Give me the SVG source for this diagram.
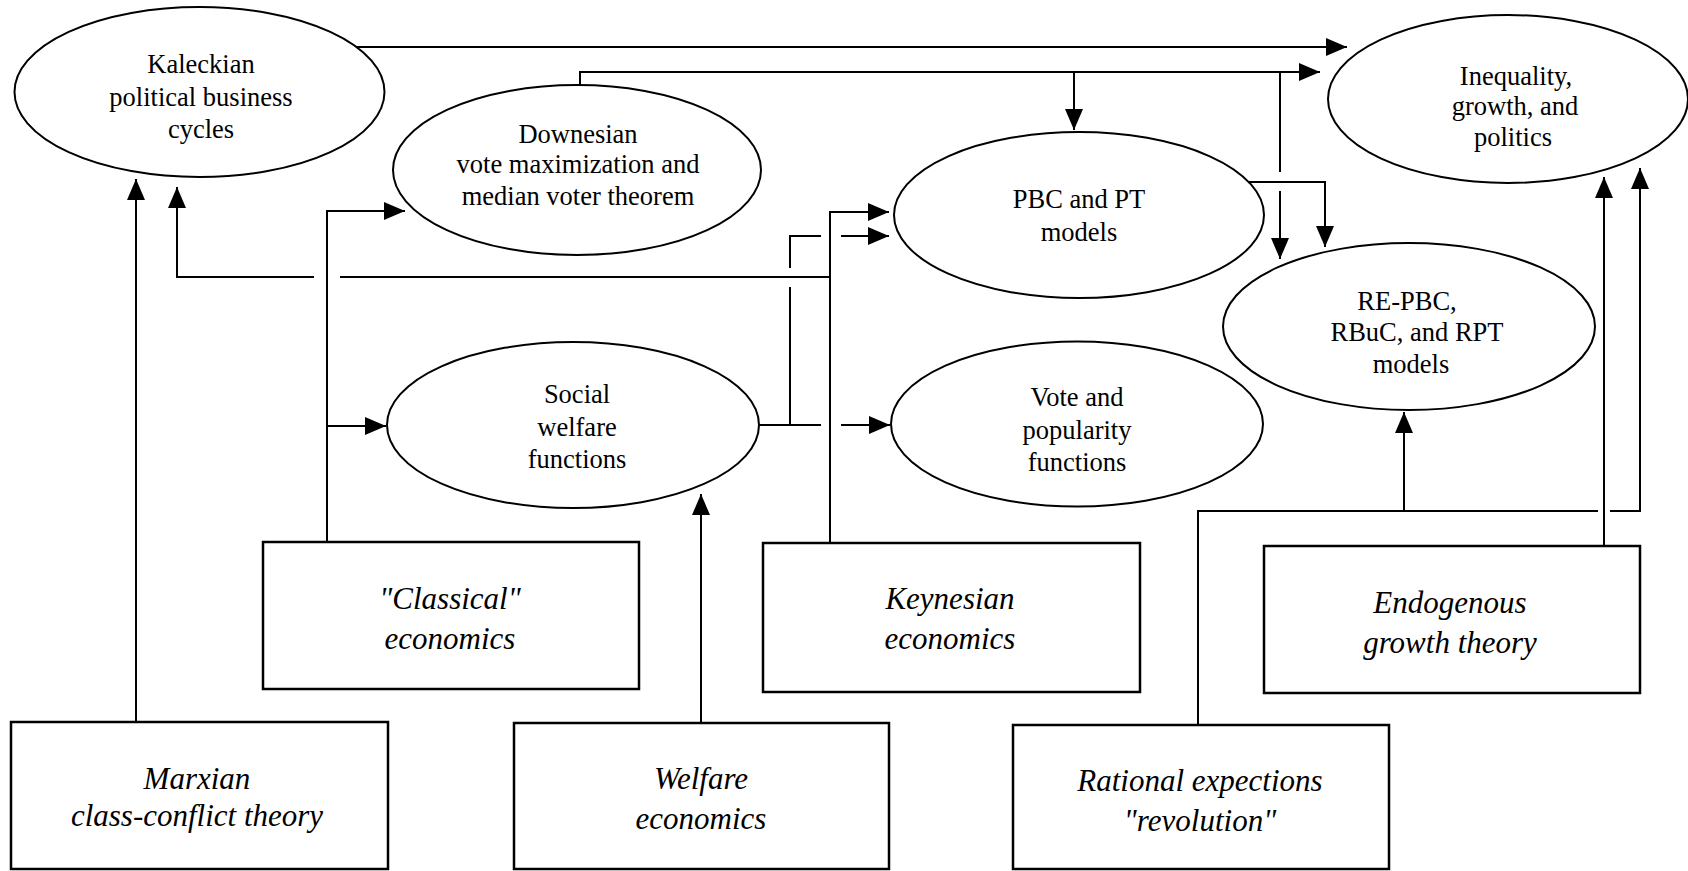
<svg xmlns="http://www.w3.org/2000/svg" width="1688" height="871" viewBox="0 0 1688 871">
<style>
.bg{fill:#fff}
.el{fill:#fff;stroke:#000;stroke-width:2}
.bx{fill:#fff;stroke:#000;stroke-width:2.5}
.t{font-family:"Liberation Serif","Times New Roman",serif;font-size:26.5px;text-anchor:middle;fill:#000}
.ti{font-family:"Liberation Serif","Times New Roman",serif;font-size:31px;font-style:italic;text-anchor:middle;fill:#000}
.c{fill:none;stroke:#000;stroke-width:2}
.a{marker-end:url(#ah)}
</style>
<defs>
<marker id="ah" viewBox="0 0 21 18" refX="21" refY="9" markerWidth="21" markerHeight="18" markerUnits="userSpaceOnUse" orient="auto">
<path d="M0,0 L21,9 L0,18 z" fill="#000"/>
</marker>
</defs>
<rect class="bg" x="0" y="0" width="1688" height="871"/>

<g id="connectors">
<path class="c a" d="M356,47 H1347"/>
<path class="c a" d="M580,88 V72 H1320"/>
<path class="c a" d="M1074,72 V130"/>
<path class="c" d="M1280,72 V172"/>
<path class="c a" d="M1280,191 V259"/>
<path class="c a" d="M1249,182 H1325 V247"/>
<path class="c a" d="M327,542 V211 H405"/>
<path class="c a" d="M327,426 H386"/>
<path class="c a" d="M830,542 V212 H889"/>
<path class="c" d="M830,277 H340"/>
<path class="c a" d="M314,277 H177 V187"/>
<path class="c a" d="M136,722 V179"/>
<path class="c a" d="M701,723 V494"/>
<path class="c" d="M759,425 H821"/>
<path class="c a" d="M841,425 H890"/>
<path class="c" d="M790,425 V287"/>
<path class="c" d="M790,268 V236 H821"/>
<path class="c a" d="M841,236 H889"/>
<path class="c" d="M1198,725 V511 H1598"/>
<path class="c a" d="M1610,511 H1640 V168"/>
<path class="c a" d="M1404,511 V412"/>
<path class="c a" d="M1604,546 V177"/>
</g>

<g id="kaleckian">
<ellipse class="el" cx="199.5" cy="92" rx="185" ry="85"/>
<text class="t" x="201" y="73">Kaleckian</text>
<text class="t" x="201" y="106">political business</text>
<text class="t" x="201" y="138">cycles</text>
</g>
<g id="downesian">
<ellipse class="el" cx="577" cy="170" rx="184" ry="85"/>
<text class="t" x="578" y="143">Downesian</text>
<text class="t" x="578" y="173">vote maximization and</text>
<text class="t" x="578" y="205">median voter theorem</text>
</g>
<g id="pbc">
<ellipse class="el" cx="1079" cy="215" rx="185" ry="83"/>
<text class="t" x="1079" y="208">PBC and PT</text>
<text class="t" x="1079" y="241">models</text>
</g>
<g id="inequality">
<ellipse class="el" cx="1508" cy="99" rx="180" ry="84"/>
<text class="t" x="1516" y="85">Inequality,</text>
<text class="t" x="1515" y="115">growth, and</text>
<text class="t" x="1513" y="146">politics</text>
</g>
<g id="swf">
<ellipse class="el" cx="573" cy="425" rx="186" ry="83"/>
<text class="t" x="577" y="403">Social</text>
<text class="t" x="577" y="436">welfare</text>
<text class="t" x="577" y="468">functions</text>
</g>
<g id="vote">
<ellipse class="el" cx="1077" cy="424" rx="186" ry="82.5"/>
<text class="t" x="1077" y="406">Vote and</text>
<text class="t" x="1077" y="439">popularity</text>
<text class="t" x="1077" y="471">functions</text>
</g>
<g id="repbc">
<ellipse class="el" cx="1409" cy="326.5" rx="186" ry="83.5"/>
<text class="t" x="1407" y="310">RE-PBC,</text>
<text class="t" x="1417" y="341">RBuC, and RPT</text>
<text class="t" x="1411" y="373">models</text>
</g>

<g id="classical">
<rect class="bx" x="263" y="542" width="376" height="147"/>
<text class="ti" x="450" y="609">"Classical"</text>
<text class="ti" x="450" y="649">economics</text>
</g>
<g id="keynesian">
<rect class="bx" x="763" y="543" width="377" height="149"/>
<text class="ti" x="950" y="609">Keynesian</text>
<text class="ti" x="950" y="649">economics</text>
</g>
<g id="endogenous">
<rect class="bx" x="1264" y="546" width="376" height="147"/>
<text class="ti" x="1450" y="613">Endogenous</text>
<text class="ti" x="1450" y="653">growth theory</text>
</g>
<g id="marxian">
<rect class="bx" x="11" y="722" width="377" height="147"/>
<text class="ti" x="197" y="789">Marxian</text>
<text class="ti" x="197" y="826">class-conflict theory</text>
</g>
<g id="welfare">
<rect class="bx" x="514" y="723" width="375" height="146"/>
<text class="ti" x="701" y="789">Welfare</text>
<text class="ti" x="701" y="829">economics</text>
</g>
<g id="rational">
<rect class="bx" x="1013" y="725" width="376" height="144"/>
<text class="ti" x="1200" y="791">Rational expections</text>
<text class="ti" x="1200" y="831">"revolution"</text>
</g>
</svg>
